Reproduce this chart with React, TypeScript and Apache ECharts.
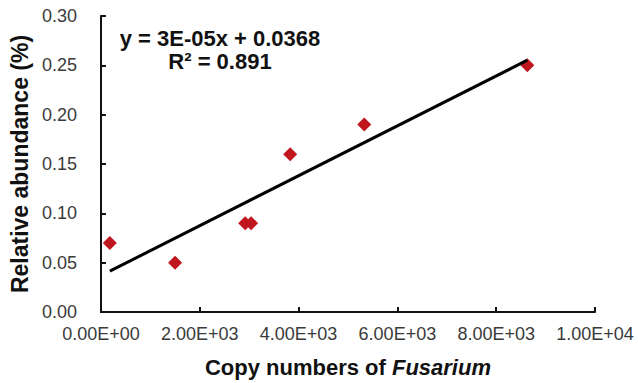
import React, { useEffect, useRef } from "react";
import * as echarts from "echarts";

const copyNumbers = [180, 1500, 2920, 3040, 3830, 5330, 8630];
const abundance = [0.07, 0.05, 0.09, 0.09, 0.16, 0.19, 0.25];
const trendX = [180, 8630];
const trendY = [0.0414, 0.2552];
const equationText = "y = 3E-05x + 0.0368";
const r2Text = "R² = 0.891";
const xTitle = "Copy numbers of ";
const xTitleItalic = "Fusarium";
const yTitle = "Relative abundance (%)";

const FONT = "'Liberation Sans', Arial, sans-serif";

function sci(v: number): string {
  const s = v.toExponential(2);
  const [m, e] = s.split("e");
  const sign = e[0] === "-" ? "-" : "+";
  const digits = e.replace(/^[+-]/, "").padStart(2, "0");
  return `${m}E${sign}${digits}`;
}

export default function App() {
  const ref = useRef<HTMLDivElement>(null);
  useEffect(() => {
    if (!ref.current) return;
    const chart = echarts.init(ref.current, undefined, { renderer: "svg" });
    const scatterData = copyNumbers.map((x, i) => [x, abundance[i]]);
    const trendData = trendX.map((x, i) => [x, trendY[i]]);
    chart.setOption({
      animation: false,
      backgroundColor: "#ffffff",
      grid: { left: 96, right: 43, top: 16, bottom: 71, containLabel: false },
      xAxis: {
        type: "value",
        min: 0,
        max: 10000,
        interval: 2000,
        name: `{n|${xTitle}}{i|${xTitleItalic}}`,
        nameLocation: "middle",
        nameGap: 44,
        nameTextStyle: {
          rich: {
            n: { fontFamily: FONT, fontSize: 22, fontWeight: "bold", color: "#111" },
            i: { fontFamily: FONT, fontSize: 22, fontWeight: "bold", fontStyle: "italic", color: "#111" },
          },
        },
        axisLine: { show: true, onZero: false, lineStyle: { color: "#111", width: 2 } },
        axisTick: { show: true, inside: true, length: 5, lineStyle: { color: "#111", width: 2 } },
        axisLabel: {
          fontFamily: FONT,
          fontSize: 18,
          color: "#3a3a3a",
          margin: 13,
          formatter: (v: number) => sci(v),
        },
        splitLine: { show: false },
      },
      yAxis: {
        type: "value",
        min: 0,
        max: 0.3,
        interval: 0.05,
        name: yTitle,
        nameLocation: "middle",
        nameGap: 61,
        nameTextStyle: { fontFamily: FONT, fontSize: 23, fontWeight: "bold", color: "#111" },
        axisLine: { show: true, lineStyle: { color: "#111", width: 2 } },
        axisTick: { show: true, inside: true, length: 5, lineStyle: { color: "#111", width: 2 } },
        axisLabel: {
          fontFamily: FONT,
          fontSize: 18,
          color: "#3a3a3a",
          margin: 24,
          formatter: (v: number) => v.toFixed(2),
        },
        splitLine: { show: false },
      },
      series: [
        {
          type: "scatter",
          data: scatterData,
          symbol: "diamond",
          symbolSize: 14,
          itemStyle: { color: "#C0161E", opacity: 1 },
          z: 2,
        },
        {
          type: "line",
          data: trendData,
          showSymbol: false,
          symbol: "none",
          lineStyle: { color: "#000", width: 3 },
          z: 3,
        },
      ],
      graphic: [
        {
          type: "text",
          x: 220,
          y: 38,
          style: {
            text: equationText,
            fontFamily: FONT,
            fontSize: 22,
            fontWeight: "bold",
            fill: "#111",
            textAlign: "center",
            textVerticalAlign: "middle",
          },
        },
        {
          type: "text",
          x: 220,
          y: 61,
          style: {
            text: r2Text,
            fontFamily: FONT,
            fontSize: 22,
            fontWeight: "bold",
            fill: "#111",
            textAlign: "center",
            textVerticalAlign: "middle",
          },
        },
      ],
    });
    return () => chart.dispose();
  }, []);
  return (
    <div style={{ position: "fixed", left: 0, top: 0, width: 638, height: 383, background: "#fff" }}>
      <div ref={ref} style={{ width: 638, height: 383 }} />
    </div>
  );
}
